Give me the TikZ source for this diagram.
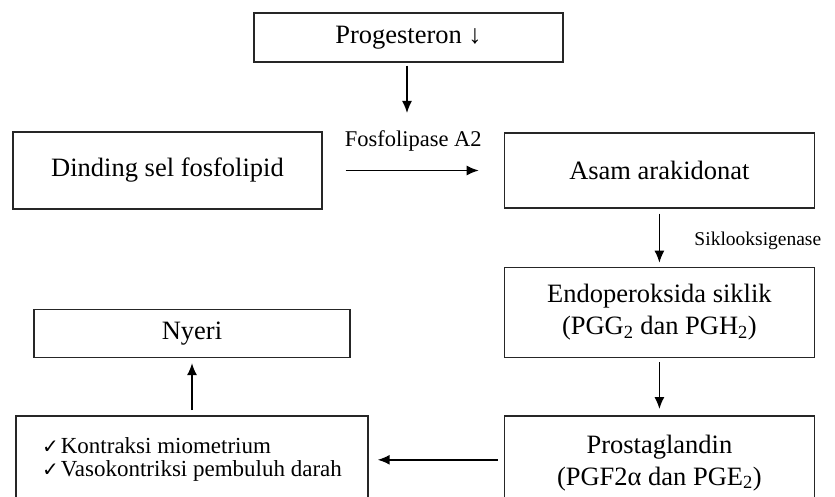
\documentclass[tikz,border=0pt]{standalone}
\usepackage{fontspec}
\setmainfont{Liberation Serif}
\newfontfamily\checkfont{DejaVu Sans}
\usetikzlibrary{arrows.meta, positioning}

\newcommand{\tick}{{\checkfont\fontsize{20}{20}\selectfont ✓}\kern2pt}

\begin{document}
\begin{tikzpicture}[
    x=1pt, y=1pt,
    box/.style={rectangle, draw=black!85, line width=1.4pt, align=center, inner sep=0pt, font=\fontsize{26.5}{32}\selectfont},
    enzyme/.style={font=\fontsize{22.5}{26}\selectfont},
    enzymesmall/.style={font=\fontsize{19.5}{22}\selectfont},
    arrow/.style={-{Latex[length=12pt, width=10pt]}, line width=1.5pt}
]
\useasboundingbox (0,0) rectangle (835,-497);
\clip (0,0) rectangle (835,-497);

\node (prog) [box, minimum width=309pt, minimum height=49pt] at (408.5,-37.5) {Progesteron ↓};
\node (dind) [box, minimum width=309pt, minimum height=77pt] at (167.5,-170.5) {Dinding sel fosfolipid};
\node (asam) [box, minimum width=310pt, minimum height=75pt, right=181pt of dind] {Asam arakidonat};
\node (endo) [box, minimum width=310pt, minimum height=90pt, below=58pt of asam] {Endoperoksida siklik\\(PGG\textsubscript{2} dan PGH\textsubscript{2})};
\node (prosta) [box, minimum width=310pt, minimum height=94pt, below=57pt of endo] {Prostaglandin\\(PGF2α dan PGE\textsubscript{2})};
\node (efek) [box, minimum width=352pt, minimum height=88pt, left=135pt of prosta.north west, anchor=north east, align=left, font=\fontsize{23}{23}\selectfont] {\tick Kontraksi miometrium\\\tick Vasokontriksi pembuluh darah};
\node (nyeri) [box, minimum width=316pt, minimum height=48pt, above=57pt of efek] {Nyeri};

\coordinate (hit) at (407,-113);

\draw [arrow, shorten <=3pt] (prog.south -| hit) -- (hit);
\draw [arrow, shorten <=23pt, shorten >=25pt] (dind) -- node[enzyme, above=15pt] {Fosfolipase A2} (asam);
\draw [arrow, shorten <=5pt, shorten >=4pt] (asam) -- node[enzymesmall, right=31pt, yshift=-3pt] {Siklooksigenase} (endo);
\draw [arrow, shorten <=4pt, shorten >=6pt] (endo) -- (prosta);
\draw [arrow, shorten <=6pt, shorten >=9pt] (prosta.west |- efek) -- (efek.east);
\draw [arrow, shorten <=5pt, shorten >=5pt] (efek) -- (nyeri);

\end{tikzpicture}
\end{document}
